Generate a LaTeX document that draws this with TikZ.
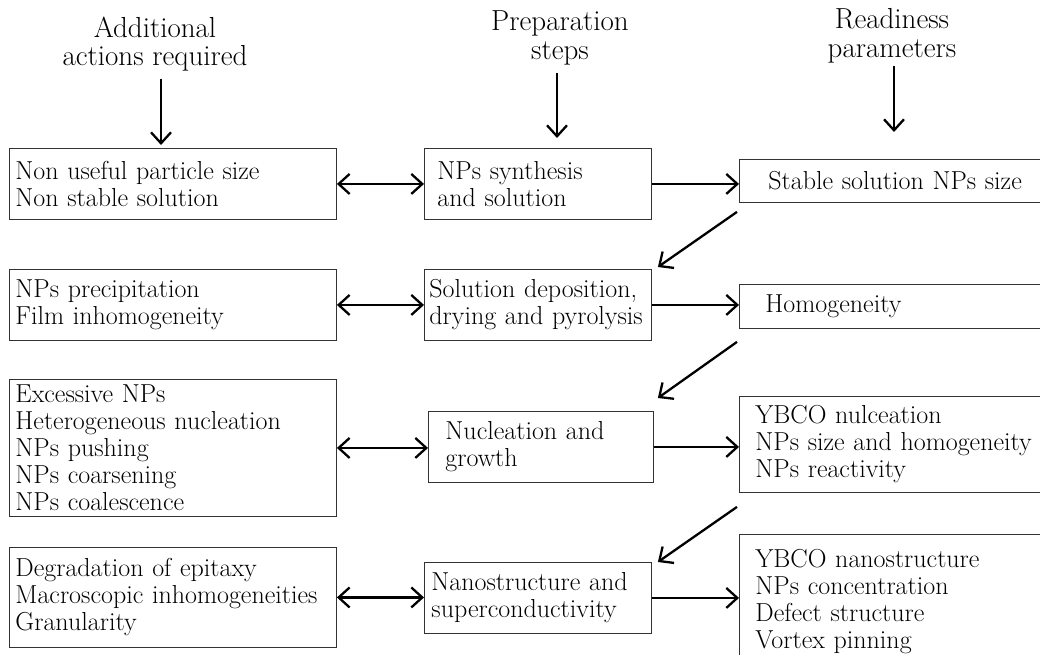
\documentclass[tikz,border=0pt]{standalone}
\usetikzlibrary{positioning}
\usetikzlibrary {arrows.meta}
\tikzset{stagebox/.style={rectangle,draw=black!80,line width=0.9pt,fill=white,
inner ysep=0pt,align=left,anchor=north west,font=\fontsize{26}{27}\selectfont}}
\tikzset{headtext/.style={align=center,inner sep=0pt,font=\fontsize{29}{28.5}\selectfont}}
\tikzset{flowarrow/.style={line width=2.3pt,-{Straight Barb[length=11pt,width=20pt]}}}
\tikzset{bothways/.style={line width=2.3pt,{Straight Barb[length=11pt,width=20pt]}-{Straight Barb[length=11pt,width=20pt]}}}

\begin{document}
\begin{tikzpicture}[x=1pt,y=-1pt]
        \useasboundingbox (0,0) rectangle (1040,655);
        \clip (0,0) rectangle (1040,655);

        \node[headtext] (headAct) at (155,44) {Additional\\actions required};
        \node[headtext] (headPrep) at (560,38) {Preparation\\steps};
        \node[headtext] (headReady) at (892,36) {Readiness\\parameters};

        \node[stagebox, minimum width=327pt, minimum height=71pt, inner xsep=6pt, text width=315pt] (actA) at (9,148) {Non useful particle size\\Non stable solution};
        \node[stagebox, minimum width=327pt, minimum height=71pt, inner xsep=6pt, text width=315pt] (actB) at (9,269) {NPs precipitation\\Film inhomogeneity};
        \node[stagebox, minimum width=327pt, minimum height=137pt, inner xsep=6pt, text width=315pt] (actC) at (9,379) {Excessive NPs\\Heterogeneous nucleation\\NPs pushing\\NPs coarsening\\NPs coalescence};
        \node[stagebox, minimum width=327pt, minimum height=100pt, inner xsep=6pt, text width=315pt] (actD) at (9,547) {Degradation of epitaxy\\Macroscopic inhomogeneities\\Granularity};

        \node[stagebox, minimum width=227pt, minimum height=71pt, inner xsep=13pt, text width=201pt] (prepA) at (424,148) {NPs synthesis\\and solution};
        \node[stagebox, minimum width=227pt, minimum height=71pt, inner xsep=5pt, text width=217pt] (prepB) at (424,269) {Solution deposition,\\drying and pyrolysis};
        \node[stagebox, minimum width=225pt, minimum height=71pt, inner xsep=17pt, text width=191pt] (prepC) at (428,411) {Nucleation and\\growth};
        \node[stagebox, minimum width=227pt, minimum height=71pt, inner xsep=7pt, text width=213pt] (prepD) at (424,562) {Nanostructure and\\superconductivity};

        \node[stagebox, minimum width=340pt, minimum height=43pt, inner xsep=29pt, text width=282pt] (readA) at (739,159) {Stable solution NPs size};
        \node[stagebox, minimum width=340pt, minimum height=44pt, inner xsep=26pt, text width=288pt] (readB) at (739,284) {Homogeneity};
        \node[stagebox, minimum width=340pt, minimum height=96pt, inner xsep=16pt, text width=308pt] (readC) at (739,396) {YBCO nulceation\\NPs size and homogeneity\\NPs reactivity};
        \node[stagebox, minimum width=340pt, minimum height=135pt, inner xsep=16pt, text width=308pt] (readD) at (739,534) {YBCO nanostructure\\NPs concentration\\Defect structure\\Vortex pinning};

        % heading arrows
        \draw [flowarrow, shorten <=7pt, shorten >=3pt] ([xshift=6pt]headAct.south) -- ([xshift=6pt]headAct.south |- actA.north);
        \draw [flowarrow, shorten <=8pt, shorten >=10pt] ([xshift=-3pt]headPrep.south) -- ([xshift=-3pt]headPrep.south |- prepA.north);
        \draw [flowarrow, shorten <=3pt, shorten >=27pt] ([xshift=2pt]headReady.south) -- ([xshift=2pt]headReady.south |- readA.north);

        % actions <-> steps
        \draw [bothways] (actA.east) -- (actA.east -| prepA.west);
        \draw [bothways] (actB.east) -- (actB.east -| prepB.west);
        \draw [bothways] (actC.east) -- (actC.east -| prepC.west);
        \draw [bothways] (actD.east) -- (actD.east -| prepD.west);

        % steps -> parameters
        \draw [flowarrow] (prepA.east) -- (prepA.east -| readA.west);
        \draw [flowarrow] (prepB.east) -- (prepB.east -| readB.west);
        \draw [flowarrow] (prepC.east) -- (prepC.east -| readC.west);
        \draw [flowarrow] (prepD.east) -- (prepD.east -| readD.west);

        % parameters -> next step
        \draw [flowarrow] ([shift={(-2,9)}]readA.south west) -- ([shift={(6,-2)}]prepB.north east);
        \draw [flowarrow] ([shift={(-2,13)}]readB.south west) -- ([shift={(4,-13)}]prepC.north east);
        \draw [flowarrow] ([shift={(-2,14)}]readC.south west) -- ([shift={(6,0)}]prepD.north east);

    \end{tikzpicture}
\end{document}
